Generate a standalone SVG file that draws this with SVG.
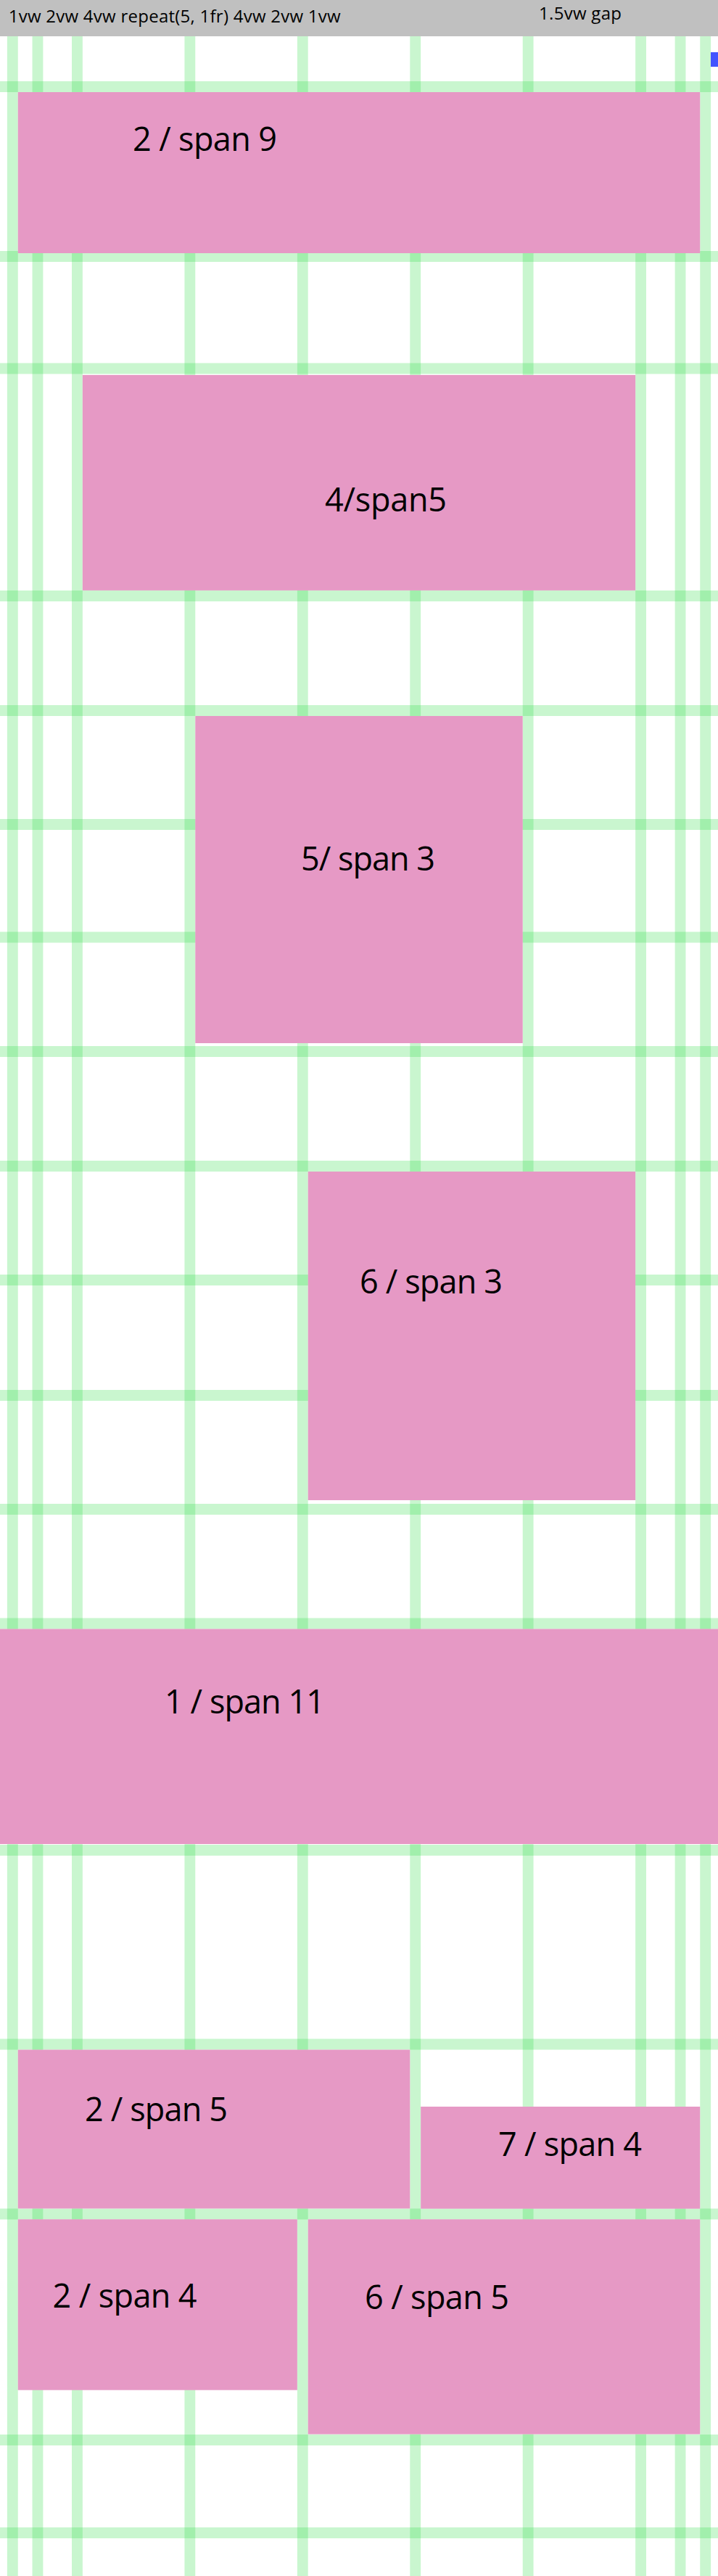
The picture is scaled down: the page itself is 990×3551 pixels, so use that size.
<svg xmlns="http://www.w3.org/2000/svg" width="990" height="3551" viewBox="0 0 990 3551">
<style>
.g{fill:rgb(54,222,76);fill-opacity:0.27}
.box{fill:#e699c5}
.lbl{font-family:"Open Sans","Noto Sans",sans-serif;font-size:45px;fill:#000}
.hd{font-family:"Open Sans","Noto Sans",sans-serif;font-size:24px;fill:#000}
</style>
<rect x="0" y="0" width="990" height="3551" fill="#ffffff"/>
<g id="grid-lines">
<rect class="g" x="9.9" y="50" width="14.85" height="3501"/>
<rect class="g" x="44.55" y="50" width="14.85" height="3501"/>
<rect class="g" x="99" y="50" width="14.85" height="3501"/>
<rect class="g" x="254.43" y="50" width="14.85" height="3501"/>
<rect class="g" x="409.86" y="50" width="14.85" height="3501"/>
<rect class="g" x="565.29" y="50" width="14.85" height="3501"/>
<rect class="g" x="720.72" y="50" width="14.85" height="3501"/>
<rect class="g" x="876.15" y="50" width="14.85" height="3501"/>
<rect class="g" x="930.6" y="50" width="14.85" height="3501"/>
<rect class="g" x="965.25" y="50" width="14.85" height="3501"/>
<rect class="g" x="0" y="112" width="990" height="15"/>
<rect class="g" x="0" y="346" width="990" height="15"/>
<rect class="g" x="0" y="500.5" width="990" height="15"/>
<rect class="g" x="0" y="814" width="990" height="15"/>
<rect class="g" x="0" y="972" width="990" height="15"/>
<rect class="g" x="0" y="1129" width="990" height="15"/>
<rect class="g" x="0" y="1284.5" width="990" height="15"/>
<rect class="g" x="0" y="1442" width="990" height="15"/>
<rect class="g" x="0" y="1600" width="990" height="15"/>
<rect class="g" x="0" y="1757" width="990" height="15"/>
<rect class="g" x="0" y="1916" width="990" height="15"/>
<rect class="g" x="0" y="2073" width="990" height="15"/>
<rect class="g" x="0" y="2230.5" width="990" height="15"/>
<rect class="g" x="0" y="2543" width="990" height="15"/>
<rect class="g" x="0" y="2810.5" width="990" height="15"/>
<rect class="g" x="0" y="3044.5" width="990" height="15"/>
<rect class="g" x="0" y="3356" width="990" height="15"/>
<rect class="g" x="0" y="3484" width="990" height="15"/>
</g>
<g id="header">
<rect x="0" y="0" width="990" height="50" fill="#c0c0c0"/>
<text class="hd" x="11.7" y="31" textLength="458">1vw 2vw 4vw repeat(5, 1fr) 4vw 2vw 1vw</text>
<text class="hd" x="743" y="26.7" textLength="114">1.5vw gap</text>
</g>
<rect id="marker" x="980" y="72" width="10" height="20" fill="#4254ff"/>
<g id="item-2-span-9"><rect class="box" x="24.75" y="127" width="940.5" height="222"/><text class="lbl" x="183" y="208" textLength="199">2 / span 9</text></g>
<g id="item-4-span5"><rect class="box" x="113.85" y="516.9" width="762.3" height="297"/><text class="lbl" x="448" y="705" textLength="168">4/span5</text></g>
<g id="item-5-span-3"><rect class="box" x="269.28" y="987" width="451.44" height="451"/><text class="lbl" x="415" y="1200" textLength="185">5/ span 3</text></g>
<g id="item-6-span-3"><rect class="box" x="424.71" y="1615" width="451.44" height="453"/><text class="lbl" x="496" y="1783" textLength="197">6 / span 3</text></g>
<g id="item-1-span-11"><rect class="box" x="0" y="2245.5" width="990" height="296.5"/><text class="lbl" x="227" y="2361.6" textLength="221">1 / span 11</text></g>
<g id="item-2-span-5"><rect class="box" x="24.75" y="2825.5" width="540.54" height="219"/><text class="lbl" x="117" y="2923.6" textLength="197">2 / span 5</text></g>
<g id="item-7-span-4"><rect class="box" x="580.14" y="2904" width="385.11" height="140.7"/><text class="lbl" x="687" y="2972.4" textLength="198">7 / span 4</text></g>
<g id="item-2-span-4"><rect class="box" x="24.75" y="3059.3" width="385.11" height="235.4"/><text class="lbl" x="72.6" y="3180.7" textLength="199">2 / span 4</text></g>
<g id="item-6-span-5"><rect class="box" x="424.71" y="3059.3" width="540.54" height="296.3"/><text class="lbl" x="503" y="3183" textLength="199">6 / span 5</text></g>
</svg>
